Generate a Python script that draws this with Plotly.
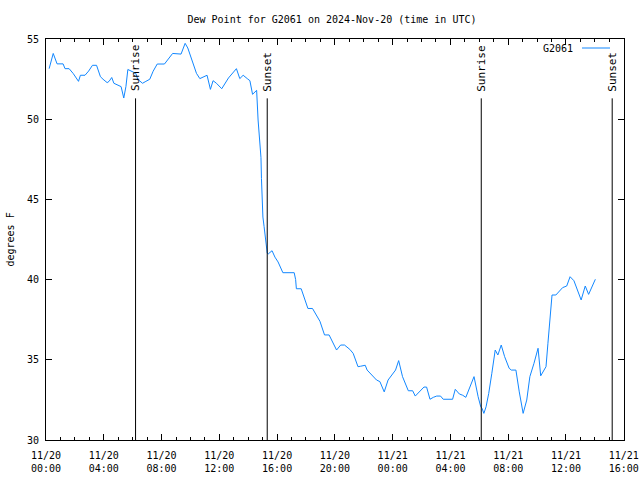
import plotly.graph_objects as go

# ---- data ----
times = [
    "2024-11-20 00:13", "2024-11-20 00:30", "2024-11-20 00:46", "2024-11-20 01:11", "2024-11-20 01:19",
    "2024-11-20 01:36", "2024-11-20 01:53", "2024-11-20 02:15", "2024-11-20 02:23", "2024-11-20 02:42",
    "2024-11-20 02:57", "2024-11-20 03:13", "2024-11-20 03:30", "2024-11-20 03:46", "2024-11-20 03:57",
    "2024-11-20 04:14", "2024-11-20 04:22", "2024-11-20 04:33", "2024-11-20 04:42", "2024-11-20 04:58",
    "2024-11-20 05:12", "2024-11-20 05:23", "2024-11-20 05:32", "2024-11-20 05:40", "2024-11-20 05:57",
    "2024-11-20 06:13", "2024-11-20 06:21", "2024-11-20 06:41", "2024-11-20 06:55", "2024-11-20 07:11",
    "2024-11-20 07:25", "2024-11-20 07:42", "2024-11-20 08:12", "2024-11-20 08:46", "2024-11-20 09:21",
    "2024-11-20 09:38", "2024-11-20 09:49", "2024-11-20 10:25", "2024-11-20 10:39", "2024-11-20 10:53",
    "2024-11-20 11:09", "2024-11-20 11:23", "2024-11-20 11:34", "2024-11-20 11:48", "2024-11-20 12:10",
    "2024-11-20 12:38", "2024-11-20 13:11", "2024-11-20 13:25", "2024-11-20 13:39", "2024-11-20 13:56",
    "2024-11-20 14:07", "2024-11-20 14:18", "2024-11-20 14:35", "2024-11-20 14:41", "2024-11-20 14:47",
    "2024-11-20 14:53", "2024-11-20 14:55", "2024-11-20 14:58", "2024-11-20 15:01", "2024-11-20 15:06",
    "2024-11-20 15:12", "2024-11-20 15:16", "2024-11-20 15:19", "2024-11-20 15:23", "2024-11-20 15:39",
    "2024-11-20 15:51", "2024-11-20 16:04", "2024-11-20 16:24", "2024-11-20 17:11", "2024-11-20 17:17",
    "2024-11-20 17:20", "2024-11-20 17:40", "2024-11-20 18:08", "2024-11-20 18:27", "2024-11-20 18:58",
    "2024-11-20 19:17", "2024-11-20 19:36", "2024-11-20 20:07", "2024-11-20 20:24", "2024-11-20 20:40",
    "2024-11-20 21:02", "2024-11-20 21:16", "2024-11-20 21:36", "2024-11-20 21:47", "2024-11-20 22:06",
    "2024-11-20 22:14", "2024-11-20 22:37", "2024-11-20 22:53", "2024-11-20 23:07", "2024-11-20 23:25",
    "2024-11-20 23:41", "2024-11-21 00:02", "2024-11-21 00:12", "2024-11-21 00:25", "2024-11-21 00:41",
    "2024-11-21 01:05", "2024-11-21 01:23", "2024-11-21 01:34", "2024-11-21 01:53", "2024-11-21 02:10",
    "2024-11-21 02:21", "2024-11-21 02:35", "2024-11-21 02:49", "2024-11-21 03:03", "2024-11-21 03:19",
    "2024-11-21 03:30", "2024-11-21 04:09", "2024-11-21 04:20", "2024-11-21 04:37", "2024-11-21 04:51",
    "2024-11-21 05:04", "2024-11-21 05:21", "2024-11-21 05:38", "2024-11-21 05:55", "2024-11-21 06:06",
    "2024-11-21 06:11", "2024-11-21 06:19", "2024-11-21 06:28", "2024-11-21 06:39", "2024-11-21 06:52",
    "2024-11-21 07:06", "2024-11-21 07:17", "2024-11-21 07:31", "2024-11-21 07:45", "2024-11-21 08:04",
    "2024-11-21 08:13", "2024-11-21 08:32", "2024-11-21 08:46", "2024-11-21 09:02", "2024-11-21 09:17",
    "2024-11-21 09:30", "2024-11-21 09:47", "2024-11-21 10:04", "2024-11-21 10:15", "2024-11-21 10:26",
    "2024-11-21 10:37", "2024-11-21 10:45", "2024-11-21 10:53", "2024-11-21 11:02", "2024-11-21 11:18",
    "2024-11-21 11:35", "2024-11-21 11:46", "2024-11-21 12:03", "2024-11-21 12:17", "2024-11-21 12:33",
    "2024-11-21 13:03", "2024-11-21 13:20", "2024-11-21 13:34", "2024-11-21 14:02",
]
dew_point = [
    53.15, 54.10, 53.45, 53.45, 53.15,
    53.15, 52.85, 52.36, 52.74, 52.74,
    53.00, 53.36, 53.36, 52.65, 52.49,
    52.28, 52.36, 52.60, 52.24, 52.11,
    52.03, 51.32, 52.03, 53.10, 52.99,
    52.86, 52.49, 52.24, 52.36, 52.49,
    52.99, 53.44, 53.44, 54.10, 54.06,
    54.73, 54.44, 52.86, 52.53, 52.65,
    52.74, 51.86, 52.40, 52.24, 51.90,
    52.57, 53.15, 52.53, 52.74, 52.53,
    52.40, 51.55, 51.80, 49.95, 48.70,
    47.60, 46.30, 45.10, 43.90, 43.30,
    42.65, 42.30, 41.65, 41.60, 41.80,
    41.40, 41.10, 40.43, 40.43, 40.00,
    39.43, 39.43, 38.20, 38.20, 37.40,
    36.55, 36.55, 35.61, 35.92, 35.92,
    35.65, 35.40, 34.57, 34.60, 34.66,
    34.36, 33.99, 33.74, 33.64, 33.00,
    33.74, 34.16, 34.36, 34.95, 33.95,
    33.07, 33.07, 32.74, 33.07, 33.30,
    33.30, 32.54, 32.66, 32.74, 32.74,
    32.54, 32.54, 33.16, 32.87, 32.79,
    32.66, 33.32, 33.95, 32.70, 32.07,
    31.98, 31.66, 32.07, 32.90, 34.16,
    35.61, 35.30, 35.92, 35.20, 34.47,
    34.36, 34.36, 33.00, 31.66, 32.49,
    33.95, 34.78, 35.72, 34.00, 34.26,
    34.57, 36.03, 37.37, 39.04, 39.04,
    39.35, 39.50, 39.60, 40.18, 39.93,
    38.73, 39.60, 39.08, 40.02,
]
series_name = "G2061"

sun_events = ["Sunrise", "Sunset", "Sunrise", "Sunset"]
sun_times = ["2024-11-20 06:12", "2024-11-20 15:19", "2024-11-21 06:08", "2024-11-21 15:12"]
sun_line_top = 51.3     # value where the marker lines end
sun_label_base = 51.6   # value where the rotated labels start

tick_vals = ["2024-11-20 00:00", "2024-11-20 04:00", "2024-11-20 08:00", "2024-11-20 12:00",
             "2024-11-20 16:00", "2024-11-20 20:00", "2024-11-21 00:00", "2024-11-21 04:00",
             "2024-11-21 08:00", "2024-11-21 12:00", "2024-11-21 16:00"]
tick_text = ["11/20<br>00:00", "11/20<br>04:00", "11/20<br>08:00", "11/20<br>12:00",
             "11/20<br>16:00", "11/20<br>20:00", "11/21<br>00:00", "11/21<br>04:00",
             "11/21<br>08:00", "11/21<br>12:00", "11/21<br>16:00"]
x_range = ["2024-11-20 00:00", "2024-11-21 16:01"]
y_range = [30, 55]

title_text = "Dew Point for G2061 on 2024-Nov-20 (time in UTC)"
y_title = "degrees F"

FONT = "DejaVu Sans Mono"
FS = 10
LINE_COLOR = "#1187ff"

fig = go.Figure()
fig.add_trace(go.Scatter(x=times, y=dew_point, mode="lines", name=series_name,
                         line=dict(color=LINE_COLOR, width=1), showlegend=False))

for ev, t in zip(sun_events, sun_times):
    fig.add_shape(type="line", xref="x", yref="y", x0=t, x1=t, y0=y_range[0], y1=sun_line_top,
                  line=dict(color="black", width=1))
    fig.add_annotation(x=t, y=sun_label_base, xref="x", yref="y", text=ev, textangle=-90,
                       showarrow=False, xanchor="center", yanchor="bottom",
                       font=dict(family=FONT, size=FS + 1, color="black"))

# legend (gnuplot style: text then sample line)
fig.add_annotation(xref="paper", yref="paper", x=(575 - 46) / 578, y=(440 - 48) / 401,
                   text=series_name, showarrow=False, xanchor="right", yanchor="middle",
                   font=dict(family=FONT, size=FS, color="black"))
fig.add_shape(type="line", xref="paper", yref="paper", x0=(582 - 46) / 578, x1=(610 - 46) / 578,
              y0=(440 - 48) / 401, y1=(440 - 48) / 401, line=dict(color=LINE_COLOR, width=1))

fig.add_annotation(xref="paper", yref="paper", x=0, y=0.5, xshift=-36, text=y_title,
                   textangle=-90, showarrow=False, xanchor="center", yanchor="middle",
                   font=dict(family=FONT, size=FS, color="black"))

fig.update_layout(
    width=640, height=480,
    margin=dict(l=46, r=16, t=39, b=40, autoexpand=False),
    paper_bgcolor="white", plot_bgcolor="white",
    font=dict(family=FONT, size=FS, color="black"),
    title=dict(text=title_text, x=(332 - 46) / 578, xref="paper", xanchor="center",
               y=1 - 19 / 480, yanchor="middle", font=dict(family=FONT, size=FS)),
)
fig.update_xaxes(type="date", range=x_range, tickmode="array", tickvals=tick_vals, ticktext=tick_text,
                 ticks="inside", ticklen=6, tickcolor="black", showline=True, linecolor="black",
                 linewidth=1, mirror="ticks", showgrid=False, zeroline=False, automargin=False,
                 minor=dict(dtick=3600000, ticks="inside", ticklen=3, tickcolor="black", showgrid=False),
                 tickfont=dict(family=FONT, size=FS), ticklabelstandoff=6)
fig.update_yaxes(range=y_range, dtick=5, tick0=30, ticks="inside", ticklen=6, tickcolor="black",
                 showline=True, linecolor="black", linewidth=1, mirror="ticks", showgrid=False,
                 zeroline=False, automargin=False, tickfont=dict(family=FONT, size=FS),
                 ticklabelstandoff=4)

fig.write_html("out.html")
